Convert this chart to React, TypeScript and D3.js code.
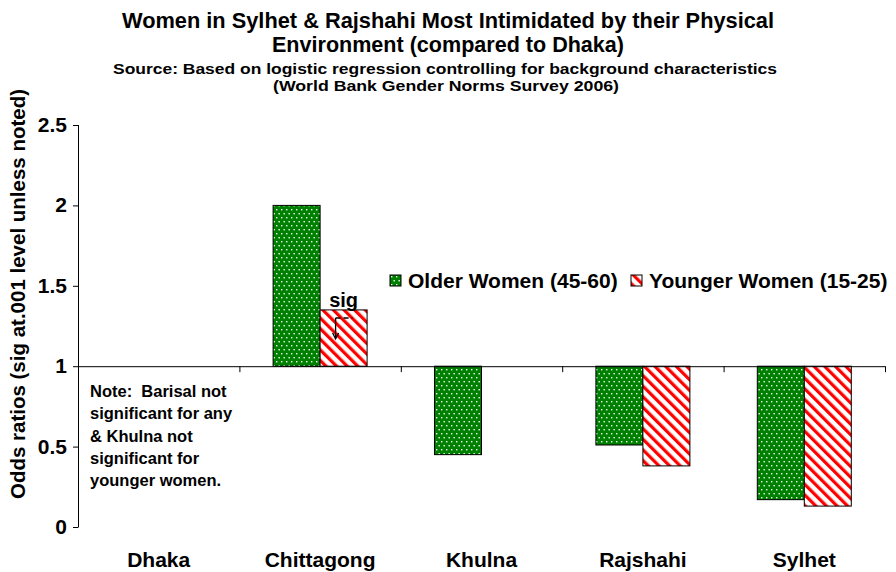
import React from 'react';
import * as d3 from 'd3';

const categories = ['Dhaka', 'Chittagong', 'Khulna', 'Rajshahi', 'Sylhet'];
const olderWomen: (number | null)[] = [null, 2.0, 0.45, 0.51, 0.17];
const youngerWomen: (number | null)[] = [null, 1.35, null, 0.38, 0.13];
const yTicks = [0, 0.5, 1, 1.5, 2, 2.5];
const seriesNames = ['Older Women (45-60)', 'Younger Women (15-25)'];
const noteLines = [
  'Note:\u00a0\u00a0Barisal not',
  'significant for any',
  '& Khulna not',
  'significant for',
  'younger women.',
];
const baseline = 1;

const FONT = '"Liberation Sans", Arial, sans-serif';
const W = 896;
const H = 572;

const App = () => {
  const x0 = d3.scaleBand<string>().domain(categories).range([78, 885]);
  const x1 = d3.scaleBand<string>()
    .domain(['older', 'younger'])
    .range([0, x0.bandwidth()])
    .paddingOuter(0.717);
  const y = d3.scaleLinear().domain([0, 2.5]).range([527, 125]);

  const fills: Record<string, string> = { older: 'url(#dots)', younger: 'url(#stripes)' };
  const series = [
    { key: 'older', values: olderWomen },
    { key: 'younger', values: youngerWomen },
  ];

  // position of the "sig" note above the Chittagong younger bar
  const sigX = (x0('Chittagong') as number) + (x1('younger') as number) + x1.bandwidth() / 2;
  const sigTop = y(youngerWomen[1] as number);
  const ax = sigX - 8;
  const ay = sigTop + 29;

  return (
    <svg width={W} height={H} style={{ position: 'absolute', left: 0, top: 0, background: '#fff' }}>
      <defs>
        <pattern id="dots" width={5} height={8} patternUnits="userSpaceOnUse">
          <rect width={5} height={8} fill="#008000" />
          <rect x={1} y={1} width={1.4} height={1.4} fill="#f2fff2" />
          <rect x={3.5} y={5} width={1.4} height={1.4} fill="#f2fff2" />
        </pattern>
        <pattern id="stripes" width={7.5} height={7.5} patternUnits="userSpaceOnUse" patternTransform="rotate(-45)">
          <rect width={7.5} height={7.5} fill="#fff" />
          <rect width={3.2} height={7.5} fill="#ff0000" />
        </pattern>
      </defs>

      {/* titles */}
      <g fontFamily={FONT} fontWeight="bold" textAnchor="middle" fill="#000">
        <text x={448} y={28} fontSize={22} textLength={652} lengthAdjust="spacingAndGlyphs">Women in Sylhet &amp; Rajshahi Most Intimidated by their Physical</text>
        <text x={448} y={52} fontSize={22} textLength={352} lengthAdjust="spacingAndGlyphs">Environment (compared to Dhaka)</text>
        <text x={445} y={74} fontSize={15.5} textLength={664} lengthAdjust="spacingAndGlyphs">Source: Based on logistic regression controlling for background characteristics</text>
        <text x={446} y={91} fontSize={15.5} textLength={346} lengthAdjust="spacingAndGlyphs">(World Bank Gender Norms Survey 2006)</text>
      </g>

      {/* bars */}
      {series.map((s) => (
        <g key={s.key}>
          {s.values.map((v, i) => {
            if (v === null) return null;
            const top = Math.min(y(v), y(baseline));
            const h = Math.abs(y(v) - y(baseline));
            return (
              <rect
                key={categories[i]}
                x={(x0(categories[i]) as number) + (x1(s.key) as number)}
                y={top}
                width={x1.bandwidth()}
                height={h}
                fill={fills[s.key]}
                stroke="#000"
                strokeWidth={1}
              />
            );
          })}
        </g>
      ))}

      {/* y axis */}
      <g stroke="#000" strokeWidth={1}>
        <line x1={78.5} x2={78.5} y1={y(2.5)} y2={y(0)} />
        {yTicks.map((t) => (
          <line key={t} x1={73} x2={78.5} y1={y(t) + 0.5} y2={y(t) + 0.5} />
        ))}
        {/* category axis crossing at 1 */}
        <line x1={78} x2={885} y1={y(baseline) + 0.5} y2={y(baseline) + 0.5} />
        {categories.map((c) => (
          <line
            key={c}
            x1={(x0(c) as number) + x0.bandwidth() + 0.5}
            x2={(x0(c) as number) + x0.bandwidth() + 0.5}
            y1={y(baseline)}
            y2={y(baseline) + 6}
          />
        ))}
      </g>
      <g fontFamily={FONT} fontWeight="bold" fontSize={21} textAnchor="end">
        {yTicks.map((t) => (
          <text key={t} x={67} y={y(t) + 7}>{String(t)}</text>
        ))}
      </g>
      <text
        transform="translate(25, 294) rotate(-90)"
        textAnchor="middle"
        fontFamily={FONT}
        fontWeight="bold"
        fontSize={20.5}
      >
        Odds ratios (sig at.001 level unless noted)
      </text>

      {/* x labels */}
      <g fontFamily={FONT} fontWeight="bold" fontSize={21} textAnchor="middle">
        {categories.map((c) => (
          <text key={c} x={(x0(c) as number) + x0.bandwidth() / 2} y={567}>{c}</text>
        ))}
      </g>

      {/* sig annotation */}
      <text x={sigX} y={sigTop - 3} textAnchor="middle" fontFamily={FONT} fontWeight="bold" fontSize={20}>sig</text>
      <line x1={sigX - 8} x2={sigX + 9} y1={sigTop + 8} y2={sigTop + 8} stroke="#000" strokeWidth={1.5} strokeDasharray="5,3" />
      <line x1={ax} x2={ax} y1={sigTop + 8} y2={ay - 1} stroke="#000" strokeWidth={1.3} />
      <path d={`M${ax - 3},${ay - 6} L${ax},${ay} L${ax + 3},${ay - 6}`} fill="none" stroke="#000" strokeWidth={1.3} />

      {/* legend */}
      <g fontFamily={FONT} fontWeight="bold" fontSize={21}>
        {seriesNames.map((name, i) => {
          const lx = i === 0 ? 390 : 631;
          return (
            <g key={name} transform={`translate(${lx}, 275)`}>
              <rect width={11} height={11} fill={i === 0 ? 'url(#dots)' : 'url(#stripes)'} stroke="#000" strokeWidth={1} />
              <text x={18} y={12.5}>{name}</text>
            </g>
          );
        })}
      </g>

      {/* note */}
      <g fontFamily={FONT} fontWeight="bold" fontSize={16.5}>
        {noteLines.map((l, i) => (
          <text key={l} x={90} y={397 + i * 22.3}>{l}</text>
        ))}
      </g>
    </svg>
  );
};

export default App;
